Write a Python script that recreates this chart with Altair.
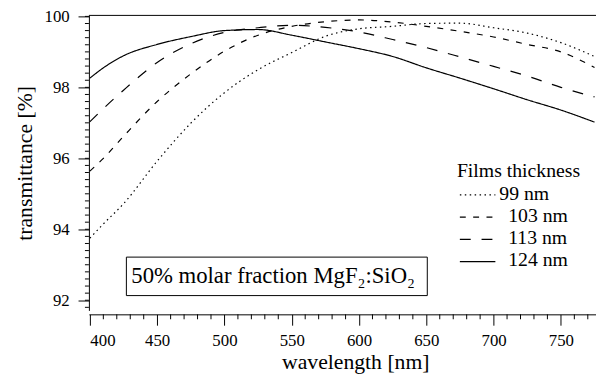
import altair as alt
import pandas as pd

# wavelength grid [nm]
wavelength = [400, 410, 425, 450, 475, 500, 525, 550, 575, 600, 625, 650, 675, 700, 725, 750, 775]

# transmittance [%] per film thickness
t_99 = [93.75, 94.15, 94.72, 95.92, 96.99, 97.85, 98.50, 98.98, 99.44, 99.65, 99.72, 99.80, 99.81, 99.68, 99.53, 99.26, 98.87]
t_103 = [95.64, 96.00, 96.62, 97.60, 98.38, 99.02, 99.47, 99.72, 99.85, 99.90, 99.84, 99.72, 99.58, 99.42, 99.21, 99.00, 98.56]
t_113 = [97.03, 97.40, 97.92, 98.70, 99.23, 99.55, 99.68, 99.75, 99.69, 99.56, 99.35, 99.12, 98.86, 98.59, 98.32, 98.00, 97.73]
t_124 = [98.26, 98.55, 98.89, 99.21, 99.43, 99.60, 99.63, 99.47, 99.28, 99.09, 98.87, 98.55, 98.26, 97.96, 97.65, 97.36, 97.02]

films = ["99 nm", "103 nm", "113 nm", "124 nm"]
series = [t_99, t_103, t_113, t_124]
dashes = [[1.5, 3.5], [6, 7.5], [11, 11], [1, 0]]

x_major = [400, 450, 500, 550, 600, 650, 700, 750]
x_minor = [v for v in range(400, 780, 10) if v % 50 != 0]
y_major = [92, 94, 96, 98, 100]
y_minor = [round(91.8 + 0.2 * i, 1) for i in range(42)]

annotation = "50% molar fraction MgF\u2082:SiO\u2082"
legend_title = "Films thickness"

FONT = "Liberation Serif"

rows = []
for f, vals in zip(films, series):
    for w, v in zip(wavelength, vals):
        rows.append({"wavelength": w, "T": v, "film": f})
df = pd.DataFrame(rows)

W, H = 514, 299
sx = alt.Scale(domain=[399.27, 776.1], nice=False, zero=False)
sy = alt.Scale(domain=[91.714, 100.028], nice=False, zero=False)

x_axis = alt.Axis(
    orient="bottom", values=x_major, tickSize=11, offset=4, grid=False, format="d",
    labelFont=FONT, labelFontSize=17, labelColor="black", labelPadding=8,
    domainColor="black", tickColor="black", title="wavelength [nm]",
    titleFont=FONT, titleFontSize=22, titleFontWeight="normal", titleColor="black",
    titleX=270, titleY=55, titleBaseline="alphabetic")
y_axis = alt.Axis(
    orient="left", values=y_major, tickSize=11, grid=False, format="d",
    labelFont=FONT, labelFontSize=17, labelColor="black", labelPadding=9,
    domainColor="black", tickColor="black", title="transmittance [%]",
    titleFont=FONT, titleFontSize=22, titleFontWeight="normal", titleColor="black",
    titleX=-58, titleBaseline="alphabetic")

lines = alt.Chart(df).mark_line(color="black", strokeWidth=1.2, clip=True,
                                interpolate="monotone").encode(
    x=alt.X("wavelength:Q", scale=sx, axis=x_axis),
    y=alt.Y("T:Q", scale=sy, axis=y_axis),
    strokeDash=alt.StrokeDash("film:N", scale=alt.Scale(domain=films, range=dashes), legend=None),
    detail="film:N",
)

# minor ticks, positioned through the same scales
x_minor_ticks = alt.Chart(pd.DataFrame({"wavelength": x_minor})).mark_rule(
    color="black", strokeWidth=1).encode(
    x=alt.X("wavelength:Q", scale=sx, axis=x_axis),
    y=alt.value(H + 4), y2=alt.value(H + 9))
y_minor_ticks = alt.Chart(pd.DataFrame({"T": y_minor})).mark_rule(
    color="black", strokeWidth=1).encode(
    y=alt.Y("T:Q", scale=sy, axis=y_axis),
    x=alt.value(0), x2=alt.value(-4))

one = pd.DataFrame({"a": [0]})

top_line = alt.Chart(one).mark_rule(color="black", strokeWidth=1).encode(
    x=alt.value(0), x2=alt.value(W), y=alt.value(0))

box = alt.Chart(one).mark_rect(fillOpacity=0, stroke="black", strokeWidth=1).encode(
    x=alt.value(38), x2=alt.value(343), y=alt.value(245), y2=alt.value(284))

box_text = alt.Chart(one).mark_text(
    font=FONT, fontSize=23, align="left", baseline="alphabetic", color="black").encode(
    x=alt.value(43), y=alt.value(271), text=alt.value(annotation))

legend_layers = [
    alt.Chart(one).mark_text(font=FONT, fontSize=20, align="left", baseline="alphabetic",
                             color="black").encode(
        x=alt.value(373), y=alt.value(164), text=alt.value(legend_title))
]
row_y = [187, 209.5, 232, 254.5]
text_x = [416, 425, 425, 425]
for f, d, yy, tx in zip(films, dashes, row_y, text_x):
    legend_layers.append(
        alt.Chart(one).mark_rule(color="black", strokeWidth=1.2, strokeDash=d).encode(
            x=alt.value(376), x2=alt.value(412), y=alt.value(yy - 5)))
    legend_layers.append(
        alt.Chart(one).mark_text(font=FONT, fontSize=20, align="left", baseline="alphabetic",
                                 color="black").encode(
            x=alt.value(tx), y=alt.value(yy), text=alt.value(f)))

chart = alt.layer(lines, x_minor_ticks, y_minor_ticks, top_line, box, box_text,
                  *legend_layers).properties(
    width=W, height=H,
    autosize=alt.AutoSizeParams(type="none"),
    padding={"left": 82, "top": 5, "right": 0, "bottom": 64},
    background="white",
).configure_view(stroke=None)

chart.save("out.html", embed_options={"renderer": "svg", "actions": False})
